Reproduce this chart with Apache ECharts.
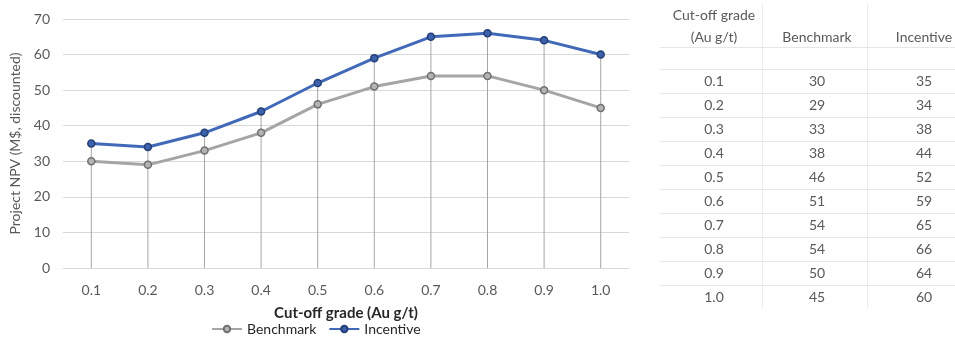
<!DOCTYPE html>
<html>
<head>
<meta charset="utf-8">
<title>Project NPV by cut-off grade</title>
<script src="https://cdn.jsdelivr.net/npm/echarts@6/dist/echarts.min.js"></script>
<style>
  html, body { margin: 0; padding: 0; background: #ffffff; }
  #chart { width: 955px; height: 338px; }
</style>
</head>
<body>
<div id="chart"></div>
<script>
// Cut-off grades (Au g/t)
const grades = ['0.1', '0.2', '0.3', '0.4', '0.5', '0.6', '0.7', '0.8', '0.9', '1.0'];
// Project NPV, M$ discounted
const benchmark = [30, 29, 33, 38, 46, 51, 54, 54, 50, 45];
const incentive = [35, 34, 38, 44, 52, 59, 65, 66, 64, 60];
// Value axis ticks
const yTicks = { min: 0, max: 70, interval: 10 };
// Table header
const tableHeader = [['Cut-off grade', '(Au g/t)'], ['Benchmark'], ['Incentive']];

const FONT = 'Lato, "Open Sans", sans-serif';
const TXT = '#595959';
const TABLE_FONT = '14px ' + FONT;

const chart = echarts.init(document.getElementById('chart'), null, { renderer: 'canvas' });

// Drop lines reach from the axis up to the higher of the two series
const dropTops = incentive.map((v, i) => Math.max(v, benchmark[i]));

// Table drawn as graphic elements to the right of the plot
const colX = [714, 817, 924];
const rowY0 = 81, rowStep = 24;
const tableGraphics = [];

function cell(text, x, y) {
  return {
    type: 'text', silent: true, x: x, y: y,
    style: { text: text, align: 'center', verticalAlign: 'middle', fill: TXT, font: TABLE_FONT }
  };
}

// header
tableGraphics.push(cell(tableHeader[0][0], colX[0], 15));
tableGraphics.push(cell(tableHeader[0][1], colX[0], 37));
tableGraphics.push(cell(tableHeader[1][0], colX[1], 37));
tableGraphics.push(cell(tableHeader[2][0], colX[2], 37));

// grid lines of the table
[762, 867].forEach(x => {
  tableGraphics.push({
    type: 'line', silent: true,
    shape: { x1: x + 0.5, y1: 4, x2: x + 0.5, y2: 308 },
    style: { stroke: '#ececec', lineWidth: 1 }
  });
});
[47, 69].concat(grades.slice(0, grades.length - 1).map((_, i) => rowY0 + rowStep * i + 12)).forEach(y => {
  tableGraphics.push({
    type: 'line', silent: true,
    shape: { x1: 660, y1: y + 0.5, x2: 955, y2: y + 0.5 },
    style: { stroke: '#e6e6e6', lineWidth: 1 }
  });
});

// rows
grades.forEach((g, i) => {
  const y = rowY0 + rowStep * i;
  [g, String(benchmark[i]), String(incentive[i])].forEach((t, c) => {
    tableGraphics.push(cell(t, colX[c], y));
  });
});

const option = {
  animation: false,
  backgroundColor: '#ffffff',
  textStyle: { fontFamily: FONT },
  grid: { left: 63, right: 326, top: 19, bottom: 70, containLabel: false },
  legend: {
    left: 206, top: 317,
    itemWidth: 30, itemHeight: 8, itemGap: 12,
    textStyle: { fontSize: 14, color: '#262626', fontFamily: FONT },
    data: ['Benchmark', 'Incentive']
  },
  xAxis: {
    type: 'category',
    data: grades,
    boundaryGap: true,
    axisTick: { show: false },
    axisLine: { lineStyle: { color: '#d9d9d9', width: 1 } },
    axisLabel: { fontSize: 14, color: TXT, margin: 15, fontFamily: FONT },
    name: 'Cut-off grade (Au g/t)',
    nameLocation: 'middle',
    nameGap: 38,
    nameTextStyle: { fontSize: 15, color: '#262626', fontFamily: FONT, fontWeight: 'bold' }
  },
  yAxis: {
    type: 'value',
    min: yTicks.min, max: yTicks.max, interval: yTicks.interval,
    axisLine: { show: false },
    axisTick: { show: false },
    splitLine: { lineStyle: { color: '#d9d9d9', width: 1 } },
    axisLabel: { fontSize: 14, color: TXT, margin: 13, fontFamily: FONT },
    name: 'Project NPV (M$, discounted)',
    nameLocation: 'middle',
    nameGap: 40,
    nameTextStyle: { fontSize: 14, color: TXT, fontFamily: FONT }
  },
  series: [
    {
      name: 'drop',
      type: 'bar',
      data: dropTops,
      barWidth: 1,
      itemStyle: { color: '#a6a6a6' },
      silent: true,
      z: 1,
      legendHoverLink: false
    },
    {
      name: 'Benchmark',
      type: 'line',
      data: benchmark,
      symbol: 'circle',
      symbolSize: 7,
      lineStyle: { color: '#a5a5a5', width: 3 },
      itemStyle: { color: '#b4b4b4', borderColor: '#6f6f6f', borderWidth: 1.5 },
      z: 3
    },
    {
      name: 'Incentive',
      type: 'line',
      data: incentive,
      symbol: 'circle',
      symbolSize: 7,
      lineStyle: { color: '#4169b8', width: 3 },
      itemStyle: { color: '#3d62ad', borderColor: '#243f75', borderWidth: 1.5 },
      z: 4
    }
  ],
  graphic: tableGraphics
};

chart.setOption(option);
</script>
</body>
</html>
